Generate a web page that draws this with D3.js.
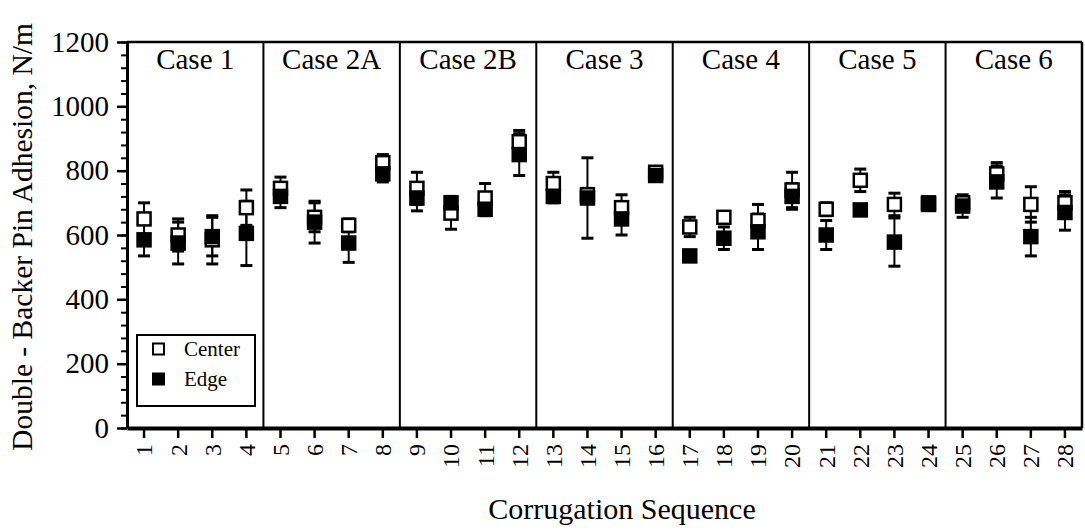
<!DOCTYPE html>
<html>
<head>
<meta charset="utf-8">
<script src="https://cdn.jsdelivr.net/npm/d3@7/dist/d3.min.js"></script>
<style>
  html, body { margin: 0; padding: 0; background: #fff; }
  svg { display: block; }
  text { font-family: "Liberation Serif", "Times New Roman", serif; fill: #000; }
</style>
</head>
<body>
<svg id="chart" width="1085" height="531"></svg>
<script>
// Corrugation sequence numbers (x categories)
const sequences = d3.range(1, 29);

// Process cases, each spanning four consecutive sequences
const caseNames = ["Case 1", "Case 2A", "Case 2B", "Case 3", "Case 4", "Case 5", "Case 6"];

// Mean adhesion at the web centre and its error half-width (N/m)
const centerMean = [650, 600, 585, 685, 745, 655, 630, 825,
                    745, 668, 715, 890, 760, 725, 685, 795,
                    625, 655, 645, 740, 680, 770, 695, 700,
                    700, 790, 695, 700];
const centerErr  = [ 50,  50,  75,  55,  35,  45,  20,  25,
                     50,  50,  45,  35,  35,  20,  40,  15,
                     30,  15,  50,  55,  20,  35,  35,  15,
                     15,  35,  55,  35];

// Mean adhesion at the web edge and its error half-width (N/m)
const edgeMean = [585, 575, 595, 605, 720, 640, 575, 790,
                  715, 700, 680, 850, 720, 715, 650, 785,
                  535, 590, 610, 720, 600, 678, 578, 695,
                  690, 765, 595, 670];
const edgeErr  = [ 50,  65,  60, 100,  35,  65,  60,  25,
                   40,  20,  20,  65,  20, 125,  50,  15,
                   15,  35,  55,  40,  45,  12,  75,  15,
                   35,  50,  60,  55];

const yMajorTicks = [0, 200, 400, 600, 800, 1000, 1200];
const yMinorTicks = d3.range(0, 1201, 40);

const svg = d3.select("#chart");
const plotLeft = 127, plotRight = 1082, plotTop = 42, plotBottom = 428;

const x = d3.scaleBand().domain(sequences).range([plotLeft, plotRight]).padding(0);
const y = d3.scaleLinear().domain([0, 1200]).range([plotBottom, plotTop]);

// Frame: top and right borders
svg.append("line").attr("x1", plotLeft).attr("x2", plotRight).attr("y1", plotTop).attr("y2", plotTop)
  .attr("stroke", "#000").attr("stroke-width", 2.5);
svg.append("line").attr("x1", plotRight).attr("x2", plotRight).attr("y1", plotTop).attr("y2", plotBottom)
  .attr("stroke", "#000").attr("stroke-width", 2.5);

// Case separators and titles
caseNames.forEach((name, i) => {
  const x0 = x(sequences[i * 4]);
  const x1 = x(sequences[i * 4 + 3]) + x.bandwidth();
  if (i > 0) {
    svg.append("line").attr("x1", x0).attr("x2", x0).attr("y1", plotTop).attr("y2", plotBottom)
      .attr("stroke", "#000").attr("stroke-width", 2);
  }
  svg.append("text").attr("x", (x0 + x1) / 2).attr("y", 69)
    .attr("text-anchor", "middle").attr("font-size", 29).text(name);
});

// Y axis: minor then major ticks
const yMinor = svg.append("g").attr("transform", `translate(${plotLeft},0)`)
  .call(d3.axisLeft(y).tickValues(yMinorTicks).tickSize(6).tickSizeOuter(0).tickFormat(""));
yMinor.select(".domain").remove();
yMinor.selectAll(".tick line").attr("stroke-width", 2);

const yAxis = svg.append("g").attr("transform", `translate(${plotLeft},0)`)
  .call(d3.axisLeft(y).tickValues(yMajorTicks).tickFormat(d3.format("d"))
    .tickSize(10).tickSizeOuter(0).tickPadding(8));
yAxis.select(".domain").attr("stroke-width", 3);
yAxis.selectAll(".tick line").attr("stroke-width", 2.5);
yAxis.selectAll(".tick text").attr("font-size", 29).attr("fill", "#000");

// X axis with rotated sequence labels
const xAxis = svg.append("g").attr("transform", `translate(0,${plotBottom})`)
  .call(d3.axisBottom(x).tickSize(10).tickSizeOuter(0));
xAxis.select(".domain").attr("stroke-width", 4);
xAxis.selectAll(".tick line").attr("stroke-width", 2.5);
xAxis.selectAll(".tick text")
  .attr("font-size", 24).attr("fill", "#000")
  .attr("text-anchor", "end")
  .attr("transform", "translate(0,16) rotate(-90)")
  .attr("x", 0).attr("y", 0).attr("dy", "0.35em");

// Axis titles
svg.append("text").attr("transform", `translate(32,${(plotBottom + plotTop) / 2 + 2}) rotate(-90)`)
  .attr("text-anchor", "middle").attr("font-size", 29.5)
  .text("Double - Backer Pin Adhesion, N/m");
svg.append("text").attr("x", 622).attr("y", 519)
  .attr("text-anchor", "middle").attr("font-size", 30)
  .text("Corrugation Sequence");

const cx = d => x(d) + x.bandwidth() / 2;
const series = [
  { mean: centerMean, err: centerErr, fill: "#fff" },
  { mean: edgeMean, err: edgeErr, fill: "#000" }
];
const capW = 12, sq = 13;

// Error bars (drawn beneath all markers)
series.forEach(s => {
  const g = svg.append("g").attr("stroke", "#000");
  sequences.forEach((seq, i) => {
    const lo = y(s.mean[i] - s.err[i]), hi = y(s.mean[i] + s.err[i]);
    g.append("line").attr("x1", cx(seq)).attr("x2", cx(seq)).attr("y1", lo).attr("y2", hi)
      .attr("stroke-width", 2);
    [lo, hi].forEach(yy => g.append("line")
      .attr("x1", cx(seq) - capW / 2).attr("x2", cx(seq) + capW / 2)
      .attr("y1", yy).attr("y2", yy).attr("stroke-width", 3));
  });
});

// Markers: centre (open) first, edge (filled) on top
series.forEach(s => {
  svg.append("g").selectAll("rect").data(sequences).join("rect")
    .attr("x", d => cx(d) - sq / 2)
    .attr("y", (d, i) => y(s.mean[i]) - sq / 2)
    .attr("width", sq).attr("height", sq)
    .attr("fill", s.fill).attr("stroke", "#000").attr("stroke-width", 2.5);
});

// Legend
const lg = svg.append("g");
lg.append("rect").attr("x", 137).attr("y", 335).attr("width", 118).attr("height", 71)
  .attr("fill", "#fff").attr("stroke", "#000").attr("stroke-width", 2);
[["Center", "#fff", 349], ["Edge", "#000", 379]].forEach(([label, fill, yy]) => {
  lg.append("rect").attr("x", 153).attr("y", yy - 5.5).attr("width", 11).attr("height", 11)
    .attr("fill", fill).attr("stroke", "#000").attr("stroke-width", 2);
  lg.append("text").attr("x", 184).attr("y", yy + 7).attr("font-size", 21).text(label);
});
</script>
</body>
</html>
